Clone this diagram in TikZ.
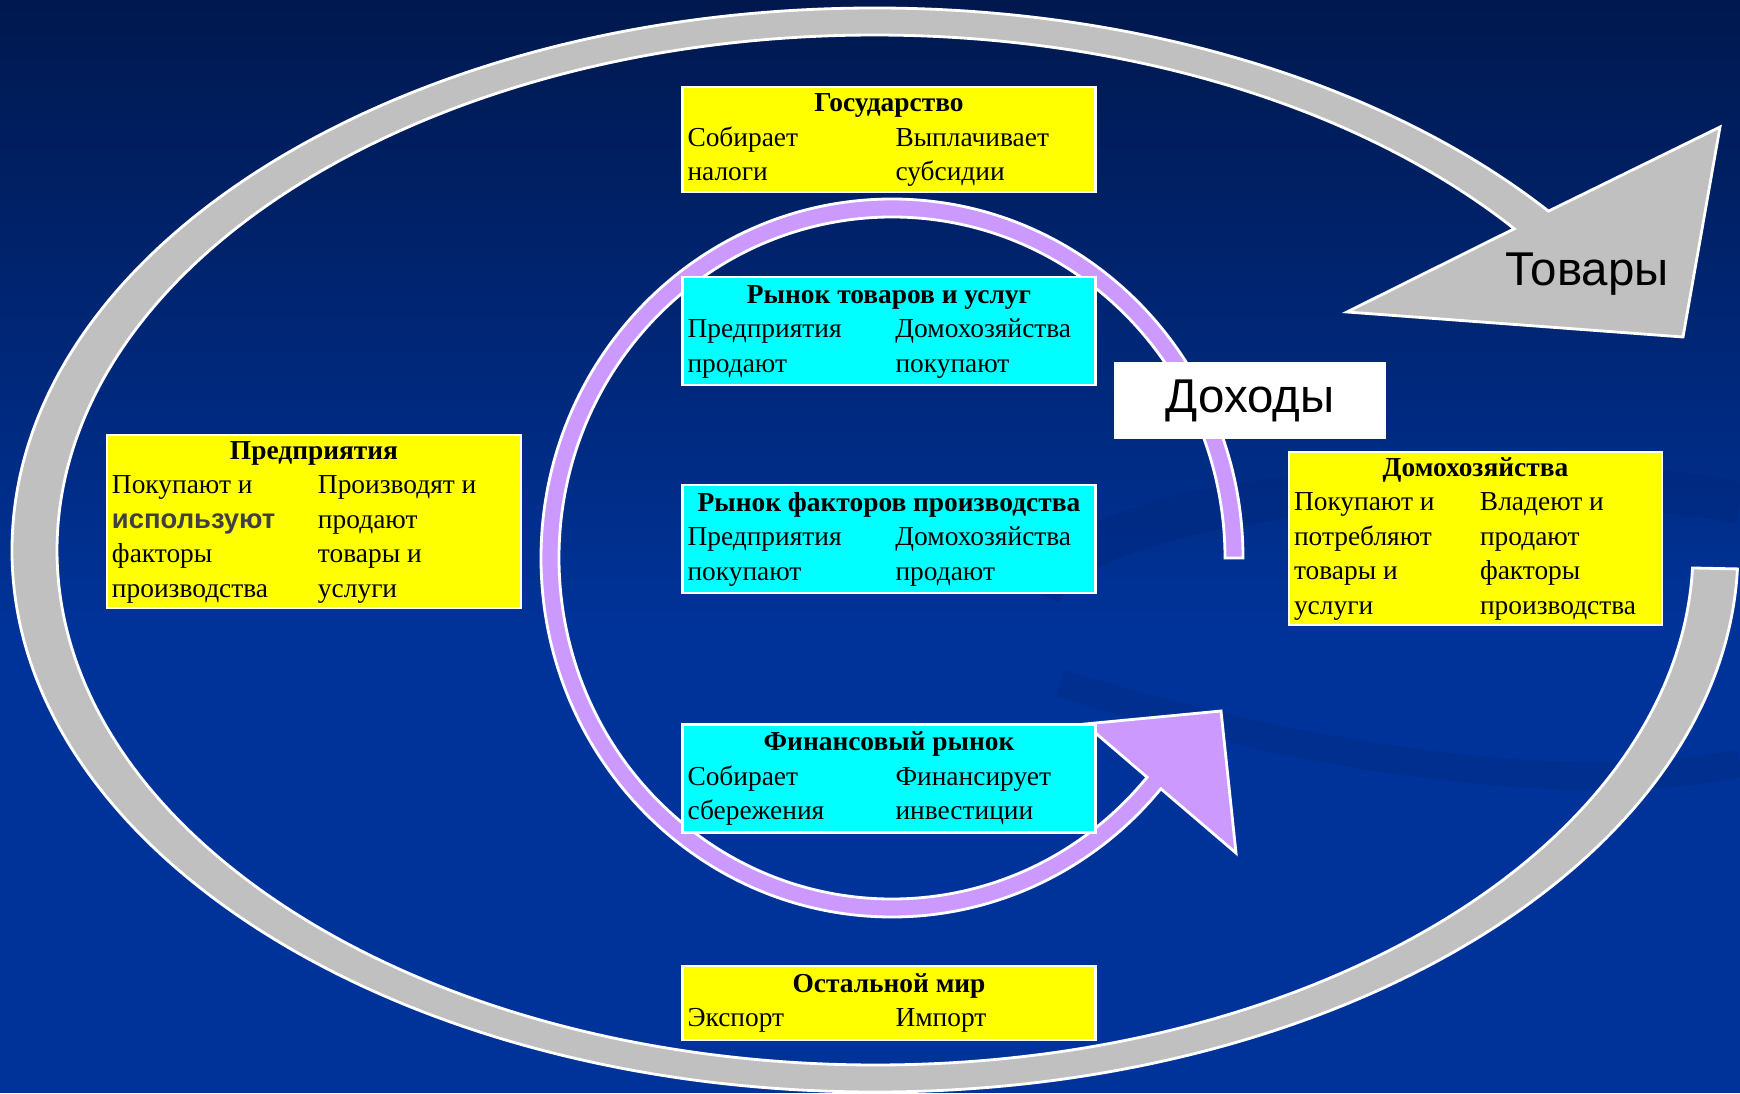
\documentclass[tikz,border=0pt]{standalone}
\usepackage{fontspec}
\setmainfont{Liberation Serif}
\setsansfont{Liberation Sans}
\usetikzlibrary{calc}
\definecolor{bgtop}{RGB}{0,24,78}
\definecolor{bgbot}{RGB}{0,51,153}
\definecolor{swirl}{RGB}{0,38,120}
\definecolor{ringgray}{RGB}{192,192,192}
\definecolor{lilac}{RGB}{204,153,255}
\definecolor{boxyellow}{RGB}{255,255,0}
\definecolor{boxcyan}{RGB}{0,255,255}
\definecolor{sfgray}{RGB}{64,64,64}
\tikzstyle{sector}=[draw=white,line width=0.6pt,inner sep=0pt,minimum width=4.13cm,font=\fontsize{7.8}{9.8}\selectfont]
\tikzstyle{agent}=[sector,fill=boxyellow]
\tikzstyle{market}=[sector,fill=boxcyan]
\tikzstyle{flow}=[draw=white,line width=0.8pt]
\tikzstyle{flowlabel}=[inner sep=0pt,font=\sffamily\fontsize{13.5}{16}\selectfont]
\newcommand{\hd}[1]{\multicolumn{2}{@{}c@{}}{\textbf{#1}}}
\newcommand{\sfword}[1]{\leavevmode{\sffamily\bfseries\color{sfgray}#1}}

\begin{document}
\begin{tikzpicture}
\useasboundingbox (0,0) rectangle (17.4,10.93);
\fill[bgbot] (0,0) rectangle (17.4,10.93);
\shade[top color=bgtop,bottom color=bgbot] (0,4.6) rectangle (17.4,10.93);
\draw[swirl,line width=12pt,opacity=0.35] (10.4,5.0) .. controls (10.9,6.1) and (15.5,6.3) .. (17.4,5.9);
\draw[swirl,line width=8pt,opacity=0.3] (10.6,4.1) .. controls (12.5,3.5) and (15.5,2.9) .. (17.4,3.3);

\coordinate (oc) at (8.75,5.43);
\coordinate (ic) at (8.92,5.35);
\path[fill=ringgray,flow] ($(oc)+(-2:8.63 and 5.42)$) arc[start angle=-2,end angle=-321.3,x radius=8.63,y radius=5.42]
  -- (17.20,9.66) -- (16.83,7.56) -- (13.47,7.81)
  -- ($(oc)+(-321.4:8.18 and 5.15)$) arc[start angle=-321.4,end angle=-2,x radius=8.18,y radius=5.15] -- cycle;
\path[fill=lilac,flow] ($(ic)+(3.51,0)$) arc[start angle=0,end angle=320,x radius=3.51,y radius=3.59]
  -- (12.36,2.40) -- (12.21,3.82) -- (10.85,3.69)
  -- ($(ic)+(320:3.33 and 3.41)$) arc[start angle=320,end angle=0,x radius=3.33,y radius=3.41] -- cycle;

\node[agent,minimum height=1.05cm] (gov) at (8.89,9.535) {\begin{tabular}{@{}p{2.08cm}@{}p{1.95cm}@{}}\hd{Государство}\\ Собирает & Выплачивает\\ налоги & субсидии\end{tabular}};
\node[market,minimum height=1.08cm] (goodsmkt) at (8.89,7.62) {\begin{tabular}{@{}p{2.08cm}@{}p{1.95cm}@{}}\hd{Рынок товаров и услуг}\\ Предприятия & Домохозяйства\\ продают & покупают\end{tabular}};
\node[market,minimum height=1.08cm] (factormkt) at (8.89,5.54) {\begin{tabular}{@{}p{2.08cm}@{}p{1.95cm}@{}}\hd{Рынок факторов производства}\\ Предприятия & Домохозяйства\\ покупают & продают\end{tabular}};
\node[market,minimum height=1.08cm] (finmkt) at (8.89,3.145) {\begin{tabular}{@{}p{2.08cm}@{}p{1.95cm}@{}}\hd{Финансовый рынок}\\ Собирает & Финансирует\\ сбережения & инвестиции\end{tabular}};
\node[agent,minimum height=0.74cm] (world) at (8.89,0.904) {\begin{tabular}{@{}p{2.08cm}@{}p{1.95cm}@{}}\hd{Остальной мир}\\ Экспорт & Импорт\end{tabular}};
\node[agent,minimum width=4.14cm,minimum height=1.67cm] (firms) at (3.14,5.715) {\begin{tabular}{@{}p{2.06cm}@{}p{1.98cm}@{}}\hd{Предприятия}\\ Покупают и & Производят и\\ \sfword{используют} & продают\\ факторы & товары и\\ производства & услуги\end{tabular}};
\node[agent,minimum width=3.73cm,minimum height=1.71cm] (house) at (14.755,5.545) {\begin{tabular}{@{}p{1.86cm}@{}p{1.77cm}@{}}\hd{Домохозяйства}\\ Покупают и & Владеют и\\ потребляют & продают\\ товары и & факторы\\ услуги & производства\end{tabular}};

\node[fill=white,minimum width=2.72cm,minimum height=0.77cm,flowlabel] (income) at (12.50,6.925) {Доходы};
\node[flowlabel,anchor=base] (goods) at (15.87,8.08) {Товары};
\end{tikzpicture}
\end{document}
